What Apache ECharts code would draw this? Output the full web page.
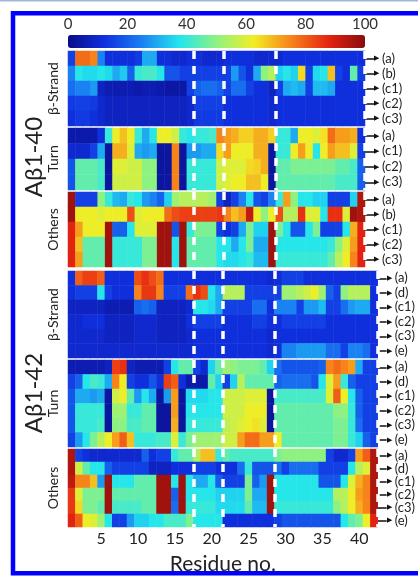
<!DOCTYPE html>
<html>
<head>
<meta charset="utf-8">
<script src="https://cdn.jsdelivr.net/npm/echarts@6/dist/echarts.min.js"></script>
<style>
  html, body { margin: 0; padding: 0; background: #fff; }
  #chart { width: 418px; height: 576px; }
</style>
</head>
<body>
<div id="chart"></div>
<script>
  // residue numbers (x categories)
  const residues40 = [1, 2, 3, 4, 5, 6, 7, 8, 9, 10, 11, 12, 13, 14, 15, 16, 17, 18, 19, 20,
    21, 22, 23, 24, 25, 26, 27, 28, 29, 30, 31, 32, 33, 34, 35, 36, 37, 38, 39, 40]
  const residues42 = [1, 2, 3, 4, 5, 6, 7, 8, 9, 10, 11, 12, 13, 14, 15, 16, 17, 18, 19, 20,
    21, 22, 23, 24, 25, 26, 27, 28, 29, 30, 31, 32, 33, 34, 35, 36, 37, 38, 39, 40, 41, 42]

  // row labels
  const rows40Strand = ['(a)', '(b)', '(c1)', '(c2)', '(c3)']
  const rows40Turn = ['(a)', '(c1)', '(c2)', '(c3)']
  const rows40Others = ['(a)', '(b)', '(c1)', '(c2)', '(c3)']
  const rows42 = ['(a)', '(d)', '(c1)', '(c2)', '(c3)', '(e)']

  // colour bar ticks
  const barTicks = [0, 20, 40, 60, 80, 100]
  // white dashed boundaries: after these residues
  const dashAfter = [17, 21, 28]

  // Abeta1-40, beta-strand (%)
  const ab40Strand = [
    [15, 78, 78, 75, 25, 12, 12, 12, 12, 14, 30, 30, 12, 12, 10, 10, 12, 12, 10, 10, 10, 12, 12, 12, 12, 10, 10, 10, 10, 12, 12, 12, 12, 12, 12, 12, 12, 12, 12, 12],
    [25, 38, 36, 36, 38, 36, 30, 34, 20, 40, 42, 42, 38, 18, 18, 15, 15, 15, 15, 15, 15, 15, 28, 18, 12, 30, 50, 55, 35, 38, 35, 65, 15, 36, 38, 68, 15, 12, 45, 15],
    [22, 25, 25, 28, 8, 6, 6, 6, 6, 5, 6, 6, 5, 4, 4, 4, 15, 20, 22, 22, 20, 15, 22, 22, 15, 12, 12, 8, 15, 30, 32, 30, 15, 32, 32, 30, 12, 12, 12, 12],
    [14, 15, 15, 14, 10, 8, 8, 8, 8, 8, 8, 8, 8, 8, 8, 8, 10, 15, 15, 15, 15, 12, 12, 12, 12, 12, 12, 10, 12, 12, 12, 12, 12, 12, 12, 12, 12, 12, 12, 12],
    [12, 14, 14, 12, 10, 8, 8, 8, 8, 8, 8, 8, 8, 8, 8, 8, 10, 14, 14, 14, 14, 12, 12, 12, 12, 12, 12, 10, 12, 12, 12, 12, 12, 12, 12, 12, 12, 12, 12, 12]
  ]
  // Abeta1-40, turn (%)
  const ab40Turn = [
    [5, 5, 5, 5, 12, 40, 62, 68, 62, 40, 30, 38, 62, 62, 58, 40, 38, 40, 40, 42, 75, 72, 70, 66, 66, 70, 70, 66, 40, 40, 30, 62, 62, 60, 64, 78, 72, 72, 70, 12],
    [10, 10, 10, 15, 30, 3, 70, 70, 60, 30, 28, 30, 3, 3, 75, 3, 28, 28, 30, 30, 65, 72, 62, 62, 62, 70, 70, 3, 40, 40, 62, 72, 62, 38, 62, 72, 68, 68, 60, 15],
    [18, 45, 45, 45, 42, 3, 60, 60, 58, 58, 50, 50, 3, 3, 75, 3, 40, 40, 40, 40, 58, 60, 60, 60, 65, 66, 70, 3, 45, 45, 48, 48, 48, 48, 48, 48, 45, 45, 42, 20],
    [18, 45, 45, 45, 42, 3, 58, 58, 58, 58, 50, 50, 3, 3, 75, 3, 40, 40, 40, 40, 58, 60, 62, 62, 68, 68, 62, 3, 45, 45, 45, 45, 45, 45, 45, 45, 42, 42, 42, 20]
  ]
  // Abeta1-40, others (%)
  const ab40Others = [
    [97, 15, 15, 15, 50, 40, 32, 30, 40, 38, 28, 25, 20, 35, 52, 55, 55, 55, 55, 52, 15, 8, 15, 25, 38, 18, 15, 25, 40, 72, 50, 38, 38, 35, 35, 15, 15, 15, 35, 95],
    [97, 62, 62, 62, 60, 62, 62, 62, 82, 60, 62, 62, 62, 78, 82, 84, 84, 84, 84, 84, 85, 75, 68, 72, 92, 62, 50, 62, 82, 55, 55, 86, 60, 60, 38, 86, 86, 60, 97, 95],
    [88, 72, 62, 62, 62, 97, 20, 20, 38, 60, 60, 60, 97, 97, 18, 97, 40, 48, 48, 48, 15, 12, 15, 30, 48, 35, 35, 97, 48, 38, 18, 18, 38, 48, 15, 15, 15, 38, 70, 88],
    [88, 68, 45, 45, 45, 97, 40, 40, 40, 40, 48, 48, 97, 97, 38, 97, 45, 45, 45, 45, 38, 38, 30, 38, 48, 30, 30, 97, 38, 38, 38, 38, 38, 38, 38, 40, 50, 60, 72, 88],
    [88, 72, 45, 45, 45, 97, 40, 40, 40, 40, 48, 48, 97, 97, 38, 97, 45, 45, 45, 45, 38, 36, 36, 38, 40, 32, 32, 97, 40, 40, 40, 40, 40, 40, 40, 45, 55, 62, 75, 88]
  ]
  // Abeta1-42, beta-strand (%)
  const ab42Strand = [
    [12, 80, 84, 84, 80, 12, 12, 12, 12, 82, 86, 82, 78, 12, 12, 12, 12, 12, 12, 12, 12, 12, 12, 12, 12, 12, 12, 10, 12, 15, 15, 15, 12, 12, 12, 12, 12, 12, 12, 12, 12, 12],
    [12, 15, 15, 15, 38, 15, 12, 12, 12, 75, 85, 85, 75, 15, 15, 15, 78, 86, 82, 38, 30, 55, 55, 55, 15, 15, 15, 15, 15, 52, 52, 55, 58, 62, 52, 20, 15, 50, 55, 55, 55, 12],
    [8, 8, 8, 8, 8, 6, 6, 6, 6, 20, 22, 20, 8, 8, 8, 8, 10, 38, 38, 36, 30, 15, 15, 15, 15, 22, 22, 12, 25, 25, 25, 15, 28, 28, 32, 15, 15, 22, 28, 30, 30, 12],
    [10, 10, 12, 12, 12, 8, 8, 8, 8, 10, 10, 10, 8, 8, 8, 8, 12, 15, 15, 15, 15, 12, 12, 12, 12, 15, 15, 12, 12, 15, 15, 15, 15, 15, 15, 12, 12, 12, 12, 12, 12, 12],
    [10, 10, 10, 10, 10, 8, 8, 8, 8, 10, 10, 10, 8, 8, 8, 8, 10, 12, 12, 12, 12, 12, 12, 12, 12, 12, 12, 10, 12, 12, 12, 12, 12, 12, 12, 12, 12, 12, 12, 12, 12, 12],
    [10, 10, 10, 10, 10, 10, 10, 10, 10, 10, 10, 10, 10, 10, 10, 10, 10, 12, 12, 12, 12, 12, 12, 12, 12, 12, 12, 10, 12, 25, 25, 28, 28, 28, 28, 22, 22, 15, 25, 25, 22, 12]
  ]
  // Abeta1-42, turn (%)
  const ab42Turn = [
    [6, 6, 6, 6, 6, 8, 84, 86, 8, 6, 6, 6, 6, 15, 38, 45, 45, 15, 10, 35, 45, 52, 50, 48, 48, 48, 45, 35, 22, 18, 18, 18, 18, 18, 20, 75, 78, 75, 72, 30, 15, 15],
    [15, 20, 38, 42, 40, 30, 75, 62, 15, 12, 12, 18, 12, 84, 80, 12, 5, 5, 5, 45, 35, 15, 35, 55, 45, 45, 45, 45, 20, 22, 22, 22, 22, 18, 38, 60, 72, 40, 20, 15, 15, 15],
    [18, 30, 30, 28, 30, 3, 58, 62, 45, 28, 38, 30, 3, 28, 72, 3, 36, 36, 36, 38, 38, 58, 58, 58, 60, 60, 60, 3, 42, 42, 42, 42, 42, 42, 42, 60, 80, 62, 38, 20, 15, 15],
    [18, 40, 40, 40, 40, 3, 52, 52, 40, 40, 45, 45, 3, 3, 72, 3, 38, 38, 38, 38, 38, 58, 58, 58, 62, 62, 62, 3, 45, 45, 45, 45, 45, 45, 45, 45, 50, 50, 40, 20, 15, 15],
    [18, 40, 40, 40, 42, 3, 50, 50, 42, 42, 45, 45, 3, 3, 70, 3, 40, 40, 40, 40, 40, 56, 58, 60, 62, 64, 60, 3, 45, 45, 45, 45, 45, 45, 45, 45, 48, 48, 40, 22, 15, 15],
    [15, 28, 38, 48, 55, 62, 72, 80, 68, 40, 40, 40, 42, 42, 60, 40, 48, 52, 52, 52, 52, 58, 58, 72, 78, 78, 72, 72, 62, 45, 45, 45, 45, 45, 45, 45, 48, 48, 40, 35, 20, 15]
  ]
  // Abeta1-42, others (%)
  const ab42Others = [
    [95, 15, 12, 10, 10, 10, 10, 10, 10, 10, 20, 12, 15, 15, 40, 45, 45, 55, 68, 68, 40, 45, 42, 42, 42, 42, 42, 42, 48, 50, 50, 50, 50, 50, 50, 15, 10, 10, 15, 72, 80, 95],
    [95, 58, 45, 38, 38, 20, 15, 15, 15, 15, 15, 8, 8, 8, 12, 12, 12, 15, 15, 15, 12, 12, 12, 22, 40, 18, 18, 18, 22, 15, 22, 22, 22, 22, 15, 15, 15, 15, 38, 55, 60, 95],
    [93, 75, 75, 68, 28, 97, 38, 38, 38, 45, 45, 45, 97, 97, 38, 97, 38, 30, 30, 38, 20, 15, 15, 15, 48, 20, 28, 97, 38, 38, 38, 38, 38, 38, 18, 18, 18, 38, 60, 70, 75, 95],
    [85, 60, 48, 48, 48, 97, 45, 45, 45, 45, 45, 45, 97, 97, 20, 97, 38, 38, 38, 38, 35, 35, 35, 35, 48, 30, 30, 97, 38, 38, 38, 38, 38, 38, 38, 38, 55, 55, 62, 72, 75, 95],
    [85, 65, 48, 48, 45, 97, 42, 42, 42, 42, 45, 45, 97, 97, 22, 97, 40, 40, 40, 40, 36, 36, 36, 36, 45, 32, 32, 97, 40, 40, 40, 40, 40, 40, 40, 40, 50, 55, 62, 70, 75, 95],
    [88, 80, 62, 60, 52, 38, 15, 15, 28, 35, 35, 38, 38, 42, 42, 42, 48, 38, 38, 38, 38, 12, 12, 12, 12, 12, 12, 12, 15, 18, 18, 18, 18, 18, 18, 18, 18, 38, 45, 48, 62, 88]
  ]

  // panel layout
  const panels = [
    {name: 'β-Strand', rows: rows40Strand, cols: residues40, data: ab40Strand, top: 51, height: 75},
    {name: 'Turn', rows: rows40Turn, cols: residues40, data: ab40Turn, top: 128, height: 62},
    {name: 'Others', rows: rows40Others, cols: residues40, data: ab40Others, top: 192, height: 75},
    {name: 'β-Strand', rows: rows42, cols: residues42, data: ab42Strand, top: 271, height: 87},
    {name: 'Turn', rows: rows42, cols: residues42, data: ab42Turn, top: 360, height: 87},
    {name: 'Others', rows: rows42, cols: residues42, data: ab42Others, top: 449, height: 86}
  ]
  const cellW = 297 / 40
  const fontMain = 'Lato, "Open Sans", sans-serif'

  function toCells (matrix) {
    let cells = []
    matrix.forEach((row, y) => row.forEach((v, x) => cells.push([x, y, v])))
    return cells
  }

  let grid = []
  let xAxis = []
  let yAxis = []
  let series = []
  panels.forEach((p, i) => {
    let last = i === panels.length - 1
    grid.push({left: 68, top: p.top, width: cellW * p.cols.length, height: p.height})
    xAxis.push({
      type: 'category',
      gridIndex: i,
      data: p.cols,
      z: 5,
      axisLine: {show: false},
      axisTick: {show: false},
      axisLabel: {
        show: last,
        interval: (idx, v) => Number(v) % 5 === 0,
        fontSize: 16,
        color: '#222',
        fontFamily: fontMain,
        margin: 4
      },
      name: last ? 'Residue no.' : '',
      nameLocation: 'middle',
      nameGap: 27,
      nameTextStyle: {fontSize: 21, color: '#222', fontFamily: fontMain},
      splitLine: {
        show: true,
        interval: (idx) => dashAfter.indexOf(idx) >= 0,
        lineStyle: {color: '#fff', width: 3.5, type: [8, 7]}
      }
    })
    yAxis.push({
      type: 'category',
      gridIndex: i,
      data: p.rows,
      inverse: true,
      position: 'left',
      axisLine: {show: false},
      axisTick: {show: false},
      axisLabel: {show: false},
      splitLine: {show: false},
      name: p.name,
      nameLocation: 'middle',
      nameRotate: 90,
      nameGap: 8,
      nameTextStyle: {fontSize: 14, color: '#222', fontFamily: fontMain}
    })
    yAxis.push({
      type: 'category',
      gridIndex: i,
      data: p.rows,
      inverse: true,
      position: 'right',
      axisLine: {show: false},
      axisTick: {show: true, interval: 0, alignWithLabel: true, length: 9, lineStyle: {color: '#111', width: 1.5}},
      axisLabel: {
        interval: 0,
        margin: 9,
        formatter: (v) => '{h|▶}{t|' + v + '}',
        rich: {
          h: {fontSize: 7, color: '#111'},
          t: {fontSize: 13, color: '#222', fontFamily: fontMain, padding: [0, 0, 0, 3]}
        }
      },
      splitLine: {show: false}
    })
    series.push({
      type: 'heatmap',
      xAxisIndex: i,
      yAxisIndex: 2 * i,
      data: toCells(p.data),
      emphasis: {disabled: true},
      progressive: 0
    })
  })

  // colour bar tick labels
  grid.push({left: 68, top: 35, width: 297, height: 13})
  xAxis.push({
    type: 'value',
    gridIndex: 6,
    position: 'top',
    min: 0,
    max: 100,
    interval: 20,
    axisLine: {show: false},
    axisTick: {show: false},
    splitLine: {show: false},
    axisLabel: {
      fontSize: 15,
      color: '#333',
      fontFamily: fontMain,
      margin: 3,
      customValues: barTicks
    }
  })
  yAxis.push({type: 'value', gridIndex: 6, show: false})

  let chart = echarts.init(document.getElementById('chart'))
  chart.setOption({
    animation: false,
    backgroundColor: '#fff',
    grid: grid,
    xAxis: xAxis,
    yAxis: yAxis,
    visualMap: {
      type: 'continuous',
      min: 0,
      max: 100,
      orient: 'horizontal',
      left: 68,
      top: 35,
      padding: 0,
      itemWidth: 13,
      itemHeight: 297,
      calculable: false,
      hoverLink: false,
      seriesIndex: [0, 1, 2, 3, 4, 5],
      inRange: {
        color: ['#0a0c88', '#1030e0', '#1a82f2', '#22e6ee', '#8ef282', '#f2ee24', '#f7841a', '#e62412', '#880c0c']
      }
    },
    graphic: [
      {type: 'rect', shape: {x: 0, y: 0, width: 418, height: 1.5}, style: {fill: '#9fb6d6'}},
      {type: 'rect', shape: {x: 13, y: 13.3, width: 420, height: 560}, style: {fill: 'none', stroke: '#0000ff', lineWidth: 4.5}},
      {type: 'text', x: 34, y: 157, rotation: Math.PI / 2,
        style: {text: 'Aβ1-40', fontSize: 24, fill: '#222', fontFamily: fontMain, align: 'center', verticalAlign: 'middle'}},
      {type: 'text', x: 34, y: 393, rotation: Math.PI / 2,
        style: {text: 'Aβ1-42', fontSize: 24, fill: '#222', fontFamily: fontMain, align: 'center', verticalAlign: 'middle'}}
    ],
    series: series
  })
</script>
</body>
</html>
